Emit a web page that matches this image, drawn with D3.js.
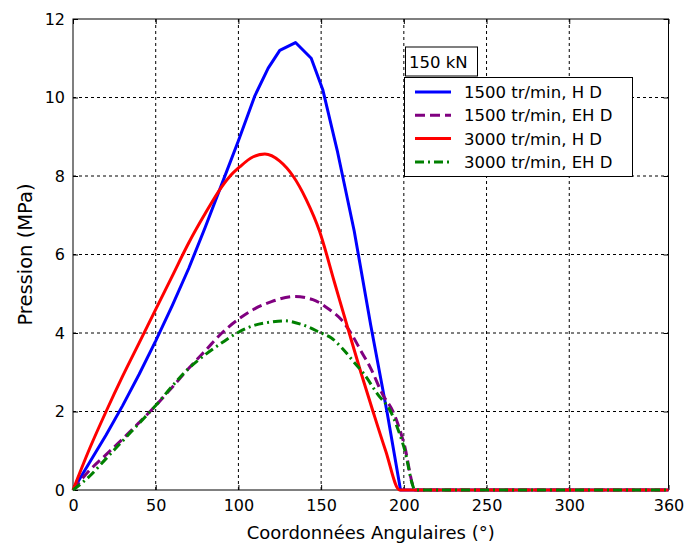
<!DOCTYPE html>
<html>
<head>
<meta charset="utf-8">
<script src="https://cdn.jsdelivr.net/npm/d3@7"></script>
<style>
  html, body { margin: 0; padding: 0; background: #fff; }
  svg { display: block; font-family: "DejaVu Sans", Verdana, sans-serif; }
</style>
</head>
<body>
<svg id="chart" width="688" height="546"></svg>
<script>
// Angular pressure profiles (MPa) at 150 kN
const angles1500HD = [0, 10, 20, 30, 40, 50, 60, 70, 80, 90, 100, 110, 118, 125, 134.5, 144, 151, 160, 170, 180, 190, 198, 360];
const p1500HD      = [0, 0.7, 1.4, 2.15, 2.95, 3.8, 4.7, 5.65, 6.7, 7.8, 8.9, 10.05, 10.75, 11.2, 11.4, 11.0, 10.2, 8.6, 6.6, 4.2, 1.95, 0, 0];

const angles1500EHD = [0, 10, 20, 30, 40, 50, 60, 70, 80, 90, 100, 110, 120, 134, 145, 155, 162, 168, 174, 180, 187, 194, 200, 207, 360];
const p1500EHD      = [0, 0.5, 0.9, 1.3, 1.72, 2.15, 2.62, 3.1, 3.55, 4.0, 4.35, 4.62, 4.8, 4.93, 4.85, 4.6, 4.35, 4.0, 3.55, 3.1, 2.45, 1.95, 1.2, 0, 0];

const angles3000HD = [0, 10, 20, 30, 40, 50, 60, 70, 80, 90, 95, 101, 109, 116, 125, 133, 141, 149, 158, 167, 174, 181, 189, 197.5, 360];
const p3000HD      = [0, 1.05, 2.0, 2.9, 3.75, 4.6, 5.45, 6.3, 7.05, 7.73, 8.0, 8.24, 8.49, 8.56, 8.38, 8.0, 7.4, 6.6, 5.3, 4.0, 3.0, 2.05, 1.0, 0, 0];

const angles3000EHD = [0, 10, 20, 30, 40, 50, 60, 70, 80, 90, 100, 110, 120, 128, 138, 150, 156, 163, 170, 176, 184, 192, 200, 207, 360];
const p3000EHD      = [0, 0.35, 0.8, 1.25, 1.7, 2.15, 2.65, 3.1, 3.45, 3.75, 4.02, 4.2, 4.28, 4.31, 4.22, 4.0, 3.88, 3.6, 3.25, 2.95, 2.45, 2.0, 1.1, 0, 0];

const seriesNames = ["1500 tr/min, H D", "1500 tr/min, EH D", "3000 tr/min, H D", "3000 tr/min, EH D"];
const xTicks = [0, 50, 100, 150, 200, 250, 300, 360];
const yTicks = [0, 2, 4, 6, 8, 10, 12];
const loadLabel = "150 kN";
const xTitle = "Coordonnées Angulaires (°)";
const yTitle = "Pression (MPa)";

const series = [
  { name: seriesNames[0], x: angles1500HD,  y: p1500HD,  color: "#0000ff", dash: null,      curve: d3.curveLinear },
  { name: seriesNames[1], x: angles1500EHD, y: p1500EHD, color: "#800080", dash: "10,5",    curve: d3.curveMonotoneX },
  { name: seriesNames[2], x: angles3000HD,  y: p3000HD,  color: "#ff0000", dash: null,      curve: d3.curveMonotoneX },
  { name: seriesNames[3], x: angles3000EHD, y: p3000EHD, color: "#008000", dash: "9,4,2,4", curve: d3.curveMonotoneX }
];

const svg = d3.select("#chart");
const plotL = 73, plotT = 19, plotR = 668.5, plotB = 490;

const x = d3.scaleLinear().domain([0, 360]).range([plotL, plotR]);
const y = d3.scaleLinear().domain([0, 12]).range([plotB, plotT]);

// dashed grid
const grid = svg.append("g");
grid.selectAll("line.gx").data(xTicks.slice(1, -1)).join("line")
  .attr("x1", d => x(d)).attr("x2", d => x(d))
  .attr("y1", plotT).attr("y2", plotB)
  .attr("stroke", "#000").attr("stroke-width", 1).attr("stroke-dasharray", "3,3");
grid.selectAll("line.gy").data(yTicks.slice(1, -1)).join("line")
  .attr("x1", plotL).attr("x2", plotR)
  .attr("y1", d => y(d)).attr("y2", d => y(d))
  .attr("stroke", "#000").attr("stroke-width", 1).attr("stroke-dasharray", "3,3");

// axes with inward ticks
const axisStyle = g => {
  g.select(".domain").remove();
  g.selectAll("line").attr("stroke", "#000");
  g.selectAll("text").attr("fill", "#000").style("font-size", "16px")
    .style("font-family", "'DejaVu Sans', Verdana, sans-serif");
};
svg.append("g").attr("transform", `translate(0,${plotB})`)
  .call(d3.axisBottom(x).tickValues(xTicks).tickSize(-5).tickPadding(10).tickFormat(d3.format("d")))
  .call(axisStyle);
svg.append("g").attr("transform", `translate(0,${plotT})`)
  .call(d3.axisTop(x).tickValues(xTicks).tickSize(-5).tickFormat(""))
  .call(axisStyle);
svg.append("g").attr("transform", `translate(${plotL},0)`)
  .call(d3.axisLeft(y).tickValues(yTicks).tickSize(-5).tickPadding(8).tickFormat(d3.format("d")))
  .call(axisStyle);
svg.append("g").attr("transform", `translate(${plotR},0)`)
  .call(d3.axisRight(y).tickValues(yTicks).tickSize(-5).tickFormat(""))
  .call(axisStyle);

svg.append("rect")
  .attr("x", plotL).attr("y", plotT)
  .attr("width", plotR - plotL).attr("height", plotB - plotT)
  .attr("fill", "none").attr("stroke", "#000").attr("stroke-width", 1);

// curves
series.forEach(s => {
  const line = d3.line().x(d => x(d[0])).y(d => y(d[1])).curve(s.curve);
  svg.append("path")
    .datum(d3.zip(s.x, s.y))
    .attr("d", line)
    .attr("fill", "none")
    .attr("stroke", s.color)
    .attr("stroke-width", 3)
    .attr("stroke-linejoin", "round")
    .attr("stroke-dasharray", s.dash);
});

// axis titles
svg.append("text")
  .attr("x", (plotL + plotR) / 2).attr("y", 539)
  .attr("text-anchor", "middle").style("font-size", "18px")
  .text(xTitle);
svg.append("text")
  .attr("transform", `translate(32,${(plotT + plotB) / 2}) rotate(-90)`)
  .attr("text-anchor", "middle").style("font-size", "19.5px")
  .text(yTitle);

// load annotation box
const lb = svg.append("g");
lb.append("rect").attr("x", 405.5).attr("y", 47).attr("width", 72).attr("height", 29)
  .attr("fill", "#fff").attr("stroke", "#000");
lb.append("text").attr("x", 409).attr("y", 68).style("font-size", "16.5px").text(loadLabel);

// legend
const lg = svg.append("g");
lg.append("rect").attr("x", 404.5).attr("y", 77.5).attr("width", 228).attr("height", 99)
  .attr("fill", "#fff").attr("stroke", "#000");
series.forEach((s, i) => {
  const yy = 92 + i * 23.3;
  lg.append("line").attr("x1", 415).attr("x2", 451).attr("y1", yy).attr("y2", yy)
    .attr("stroke", s.color).attr("stroke-width", 3).attr("stroke-dasharray", s.dash);
  lg.append("text").attr("x", 464).attr("y", yy + 6).style("font-size", "16.5px").text(s.name);
});
</script>
</body>
</html>
